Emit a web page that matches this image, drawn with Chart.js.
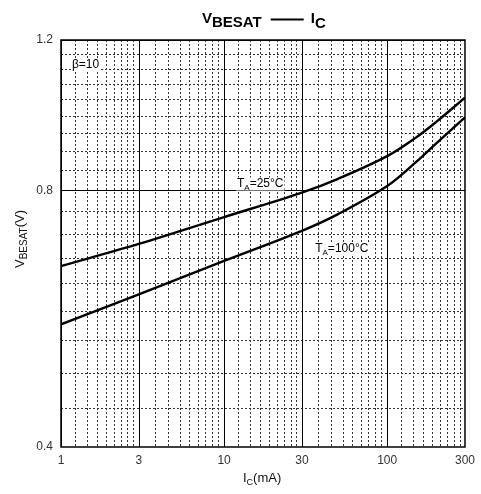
<!DOCTYPE html>
<html><head><meta charset="utf-8">
<script src="https://cdn.jsdelivr.net/npm/chart.js@4/dist/chart.umd.min.js"></script>
<style>html,body{margin:0;padding:0;background:#fff;}#wrap{width:481px;height:494px;position:relative;}</style>
</head><body><div id="wrap"><canvas id="c" width="481" height="494"></canvas></div>
<script>
// ---- data ----
const icValues = [1, 3, 10, 30, 50, 100, 150, 200, 300];       // I_C (mA)
const vbe25    = [0.652, 0.692, 0.744, 0.795, 0.825, 0.877, 0.922, 0.962, 1.027];
const vbe100   = [0.557, 0.604, 0.661, 0.717, 0.750, 0.809, 0.863, 0.908, 0.974];
const xTickLabels = [1, 3, 10, 30, 100, 300];
const yTickLabels = [0.4, 0.8, 1.2];
const minorSteps = 9;   // each major interval is split into 9 dotted divisions
// annotation anchors in data coordinates (x = I_C, y = V)
const noteBeta = {x: 1.167, y: 1.112};
const note25   = {x: 12.0, y: 0.806};
const note100  = {x: 36.2, y: 0.677};

const FONT = '"Liberation Sans", Arial, Helvetica, sans-serif';

function drawParts(ctx, x, y, parts, weight) {
  let cx = x;
  for (const p of parts) {
    ctx.font = (weight || '') + ' ' + p.size + 'px ' + FONT;
    ctx.fillText(p.t, cx, y + (p.dy || 0));
    cx += ctx.measureText(p.t).width + (p.gap || 0);
  }
  return cx - x;
}
function measureParts(ctx, parts, weight) {
  let w = 0;
  for (const p of parts) { ctx.font = (weight || '') + ' ' + p.size + 'px ' + FONT; w += ctx.measureText(p.t).width + (p.gap || 0); }
  return w;
}

const gridPlugin = {
  id: 'customGrid',
  beforeDatasetsDraw(chart) {
    const {ctx, chartArea: a, scales: {x, y}} = chart;
    ctx.save();
    ctx.beginPath(); ctx.rect(a.left, a.top, a.right - a.left, a.bottom - a.top); ctx.clip();
    // minor dotted lines
    ctx.strokeStyle = '#333'; ctx.lineWidth = 1; ctx.setLineDash([2, 2]);
    for (let i = 0; i < xTickLabels.length - 1; i++) {
      const lo = xTickLabels[i], hi = xTickLabels[i + 1];
      for (let k = 1; k < minorSteps; k++) {
        const px = Math.round(x.getPixelForValue(lo + k * (hi - lo) / minorSteps)) + 0.5;
        ctx.beginPath(); ctx.moveTo(px, a.top); ctx.lineTo(px, a.bottom); ctx.stroke();
      }
    }
    for (let i = 0; i < yTickLabels.length - 1; i++) {
      const lo = yTickLabels[i], hi = yTickLabels[i + 1];
      for (let k = 1; k < minorSteps; k++) {
        const py = Math.round(y.getPixelForValue(lo + k * (hi - lo) / minorSteps)) + 0.5;
        ctx.beginPath(); ctx.moveTo(a.left, py); ctx.lineTo(a.right, py); ctx.stroke();
      }
    }
    // major solid lines
    ctx.setLineDash([]); ctx.strokeStyle = '#000'; ctx.lineWidth = 1;
    xTickLabels.forEach(v => {
      const px = Math.round(x.getPixelForValue(v)) + 0.5;
      ctx.beginPath(); ctx.moveTo(px, a.top); ctx.lineTo(px, a.bottom); ctx.stroke();
    });
    yTickLabels.forEach(v => {
      const py = Math.round(y.getPixelForValue(v)) + 0.5;
      ctx.beginPath(); ctx.moveTo(a.left, py); ctx.lineTo(a.right, py); ctx.stroke();
    });
    ctx.restore();

    // border
    ctx.save();
    ctx.strokeStyle = '#000'; ctx.lineWidth = 1.5;
    ctx.strokeRect(a.left, a.top, a.right - a.left, a.bottom - a.top);
    ctx.restore();

    // annotations with white backgrounds
    ctx.save();
    ctx.fillStyle = '#000'; ctx.textBaseline = 'alphabetic'; ctx.textAlign = 'left';
    const notes = [
      {n: noteBeta, parts: [{t: 'β=10', size: 12}]},
      {n: note25, parts: [{t: 'T', size: 12}, {t: 'A', size: 8, dy: 3}, {t: '=25°C', size: 12}]},
      {n: note100, parts: [{t: 'T', size: 12}, {t: 'A', size: 8, dy: 3}, {t: '=100°C', size: 12}]}
    ];
    for (const it of notes) {
      const px = x.getPixelForValue(it.n.x), py = y.getPixelForValue(it.n.y);
      const w = measureParts(ctx, it.parts);
      ctx.fillStyle = '#fff';
      ctx.fillRect(px - 1, py - 10, w + 2, 13);
      ctx.fillStyle = '#000';
      drawParts(ctx, px, py, it.parts);
    }
    ctx.restore();
  },
  afterDraw(chart) {
    const {ctx} = chart;
    ctx.save();
    ctx.fillStyle = '#000'; ctx.textAlign = 'left'; ctx.textBaseline = 'alphabetic';
    // title
    let tx = 202;
    tx += drawParts(ctx, tx, 23, [{t: 'V', size: 15}, {t: 'BESAT', size: 15, dy: 4}], 'bold');
    ctx.strokeStyle = '#000'; ctx.lineWidth = 2;
    ctx.beginPath(); ctx.moveTo(tx + 9, 19.5); ctx.lineTo(tx + 42, 19.5); ctx.stroke();
    drawParts(ctx, tx + 49, 23, [{t: 'I', size: 15}, {t: 'C', size: 15, dy: 5}], 'bold');
    // x-axis title
    ctx.fillStyle = '#111';
    drawParts(ctx, 243, 482, [{t: 'I', size: 13}, {t: 'C', size: 9, dy: 3}, {t: '(mA)', size: 13}]);
    // y-axis title (rotated)
    ctx.translate(24, 268);
    ctx.rotate(-Math.PI / 2);
    drawParts(ctx, 0, 0, [{t: 'V', size: 13}, {t: 'BESAT', size: 10, dy: 3}, {t: '(V)', size: 13}]);
    ctx.restore();
  }
};

new Chart(document.getElementById('c'), {
  type: 'scatter',
  data: {
    datasets: [
      {label: 'TA=25°C', data: icValues.map((v, i) => ({x: v, y: vbe25[i]})),
       showLine: true, borderColor: '#000', borderWidth: 2.4, pointRadius: 0, tension: 0.35, fill: false},
      {label: 'TA=100°C', data: icValues.map((v, i) => ({x: v, y: vbe100[i]})),
       showLine: true, borderColor: '#000', borderWidth: 2.4, pointRadius: 0, tension: 0.35, fill: false}
    ]
  },
  options: {
    responsive: false,
    animation: false,
    devicePixelRatio: 1,
    layout: {padding: {left: 0, top: 40, right: 13, bottom: 0}},
    plugins: {legend: {display: false}, title: {display: false}, tooltip: {enabled: false}},
    scales: {
      x: {
        type: 'logarithmic', min: 1, max: 300,
        grid: {display: false, drawTicks: false}, border: {display: false},
        afterBuildTicks: s => { s.ticks = xTickLabels.map(v => ({value: v})); },
        afterFit: s => { s.height = 47; },
        ticks: {autoSkip: false, maxRotation: 0, padding: 6, color: '#333',
                font: {family: FONT, size: 12}, callback: v => String(v)}
      },
      y: {
        type: 'logarithmic', min: 0.4, max: 1.2,
        grid: {display: false, drawTicks: false}, border: {display: false},
        afterBuildTicks: s => { s.ticks = yTickLabels.map(v => ({value: v})); },
        afterFit: s => { s.width = 61; },
        ticks: {autoSkip: false, padding: 8, color: '#333',
                font: {family: FONT, size: 12}, callback: v => Number(v).toFixed(1)}
      }
    }
  },
  plugins: [gridPlugin]
});
</script>
</body></html>
